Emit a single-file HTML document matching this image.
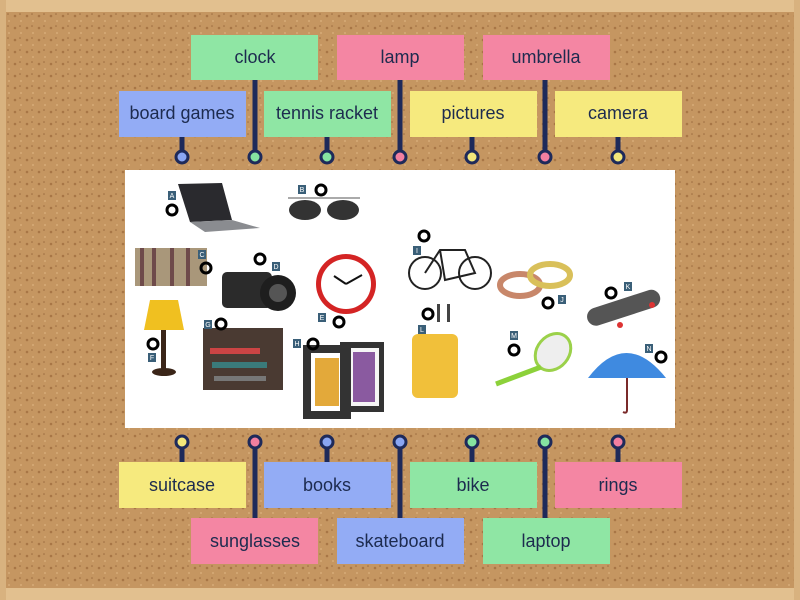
<!DOCTYPE html>
<html><head><meta charset="utf-8"><style>
html,body{margin:0;padding:0;width:800px;height:600px;overflow:hidden;background:#c4935e}
svg{display:block}
text{font-family:"Liberation Sans",sans-serif}
.lb{font-size:18px;fill:#1d2b4f;text-anchor:middle}
.tg{font-size:7px;fill:#fff;text-anchor:middle}
</style></head><body>
<svg width="800" height="600" viewBox="0 0 800 600" xmlns="http://www.w3.org/2000/svg">
<defs>
<pattern id="cork" width="12" height="12" patternUnits="userSpaceOnUse">
<rect width="12" height="12" fill="#c59661"/>
<circle cx="3" cy="4" r="1.3" fill="#a87646"/><circle cx="9" cy="9" r="1" fill="#d6ab77"/><circle cx="8" cy="2" r="0.8" fill="#9d6d40"/>
</pattern>
</defs>
<rect width="800" height="600" fill="url(#cork)"/>
<rect x="0" y="0" width="800" height="12" fill="#e2c08f"/>
<rect x="0" y="588" width="800" height="12" fill="#e2c08f"/>
<rect x="0" y="0" width="6" height="600" fill="#d8b27f"/>
<rect x="794" y="0" width="6" height="600" fill="#d8b27f"/>

<!-- white image area -->
<rect x="125" y="170" width="550" height="258" fill="#ffffff"/>

<!-- connectors -->
<g stroke="#1e2a5a" stroke-width="5">
<line x1="182" y1="130" x2="182" y2="157"/><line x1="255" y1="75" x2="255" y2="157"/>
<line x1="327" y1="130" x2="327" y2="157"/><line x1="400" y1="75" x2="400" y2="157"/>
<line x1="472" y1="130" x2="472" y2="157"/><line x1="545" y1="75" x2="545" y2="157"/>
<line x1="618" y1="130" x2="618" y2="157"/>
<line x1="182" y1="442" x2="182" y2="468"/><line x1="255" y1="442" x2="255" y2="522"/>
<line x1="327" y1="442" x2="327" y2="468"/><line x1="400" y1="442" x2="400" y2="522"/>
<line x1="472" y1="442" x2="472" y2="468"/><line x1="545" y1="442" x2="545" y2="522"/>
<line x1="618" y1="442" x2="618" y2="468"/>
</g>
<g stroke="#1e2a5a" stroke-width="3">
<circle cx="182" cy="157" r="6" fill="#8aa6f2"/><circle cx="255" cy="157" r="6" fill="#86e3a0"/>
<circle cx="327" cy="157" r="6" fill="#86e3a0"/><circle cx="400" cy="157" r="6" fill="#f27fa0"/>
<circle cx="472" cy="157" r="6" fill="#f3e77a"/><circle cx="545" cy="157" r="6" fill="#f27fa0"/>
<circle cx="618" cy="157" r="6" fill="#f3e77a"/>
<circle cx="182" cy="442" r="6" fill="#f3e77a"/><circle cx="255" cy="442" r="6" fill="#f27fa0"/>
<circle cx="327" cy="442" r="6" fill="#8aa6f2"/><circle cx="400" cy="442" r="6" fill="#8aa6f2"/>
<circle cx="472" cy="442" r="6" fill="#86e3a0"/><circle cx="545" cy="442" r="6" fill="#86e3a0"/>
<circle cx="618" cy="442" r="6" fill="#f27fa0"/>
</g>

<!-- labels -->
<g>
<rect x="191" y="35" width="127" height="45" fill="#8fe6a4"/><text class="lb" x="255" y="63">clock</text>
<rect x="337" y="35" width="127" height="45" fill="#f486a3"/><text class="lb" x="400" y="63">lamp</text>
<rect x="483" y="35" width="127" height="45" fill="#f486a3"/><text class="lb" x="546" y="63">umbrella</text>
<rect x="119" y="91" width="127" height="46" fill="#93acf5"/><text class="lb" x="182" y="119">board games</text>
<rect x="264" y="91" width="127" height="46" fill="#8fe6a4"/><text class="lb" x="327" y="119">tennis racket</text>
<rect x="410" y="91" width="127" height="46" fill="#f6ea7e"/><text class="lb" x="473" y="119">pictures</text>
<rect x="555" y="91" width="127" height="46" fill="#f6ea7e"/><text class="lb" x="618" y="119">camera</text>
<rect x="119" y="462" width="127" height="46" fill="#f6ea7e"/><text class="lb" x="182" y="491">suitcase</text>
<rect x="264" y="462" width="127" height="46" fill="#93acf5"/><text class="lb" x="327" y="491">books</text>
<rect x="410" y="462" width="127" height="46" fill="#8fe6a4"/><text class="lb" x="473" y="491">bike</text>
<rect x="555" y="462" width="127" height="46" fill="#f486a3"/><text class="lb" x="618" y="491">rings</text>
<rect x="191" y="518" width="127" height="46" fill="#f486a3"/><text class="lb" x="255" y="547">sunglasses</text>
<rect x="337" y="518" width="127" height="46" fill="#93acf5"/><text class="lb" x="400" y="547">skateboard</text>
<rect x="483" y="518" width="127" height="46" fill="#8fe6a4"/><text class="lb" x="546" y="547">laptop</text>
</g>

<!-- pictures (simplified) -->
<!-- laptop -->
<polygon points="178,184 222,183 232,220 190,222" fill="#2a2a2e"/>
<polygon points="190,222 232,220 260,228 205,232" fill="#8a8c90"/>
<!-- sunglasses -->
<ellipse cx="305" cy="210" rx="16" ry="10" fill="#333"/><ellipse cx="343" cy="210" rx="16" ry="10" fill="#333"/>
<line x1="288" y1="198" x2="360" y2="198" stroke="#aaa" stroke-width="2"/>
<!-- books shelf -->
<rect x="135" y="248" width="72" height="38" fill="#a9977a"/>
<g fill="#6e4a4a"><rect x="140" y="248" width="4" height="38"/><rect x="152" y="248" width="4" height="38"/><rect x="170" y="248" width="4" height="38"/><rect x="186" y="248" width="4" height="38"/></g>
<!-- camera -->
<rect x="222" y="272" width="50" height="36" rx="5" fill="#2b2b2b"/><circle cx="278" cy="293" r="18" fill="#1e1e1e"/><circle cx="278" cy="293" r="9" fill="#555"/>
<!-- clock -->
<circle cx="346" cy="284" r="30" fill="#d42424"/><circle cx="346" cy="284" r="25" fill="#fff"/>
<line x1="346" y1="284" x2="334" y2="276" stroke="#111" stroke-width="2"/><line x1="346" y1="284" x2="362" y2="275" stroke="#111" stroke-width="2"/>
<!-- lamp -->
<polygon points="150,300 178,300 184,330 144,330" fill="#f0c020"/>
<rect x="161" y="330" width="5" height="40" fill="#3a2518"/><ellipse cx="164" cy="372" rx="12" ry="4" fill="#3a2518"/>
<!-- stack of books -->
<rect x="203" y="328" width="80" height="62" fill="#4a3a32"/>
<g fill="#c44"><rect x="210" y="348" width="50" height="6"/></g><rect x="212" y="362" width="55" height="6" fill="#3a7a7a"/><rect x="214" y="376" width="52" height="5" fill="#777"/>
<!-- pictures -->
<rect x="305" y="347" width="44" height="70" fill="#333"/><rect x="311" y="353" width="32" height="58" fill="#fff"/><rect x="315" y="358" width="24" height="48" fill="#e3a93a"/>
<rect x="340" y="342" width="44" height="70" fill="#333"/><rect x="349" y="348" width="30" height="58" fill="#f5f5f5"/><rect x="353" y="352" width="22" height="50" fill="#8a5aa0"/>
<rect x="305" y="347" width="44" height="70" fill="none" stroke="#333" stroke-width="4"/>
<!-- bike -->
<g fill="none" stroke="#222" stroke-width="2"><circle cx="425" cy="273" r="16"/><circle cx="475" cy="273" r="16"/>
<polyline points="425,273 440,250 465,250 475,273 445,280 440,250"/></g>
<!-- rings -->
<ellipse cx="520" cy="285" rx="20" ry="11" fill="none" stroke="#c8876a" stroke-width="6"/>
<ellipse cx="550" cy="275" rx="20" ry="11" fill="none" stroke="#d9c05a" stroke-width="6"/>
<!-- skateboard -->
<g transform="rotate(-18 623 309)"><rect x="586" y="299" width="76" height="18" rx="9" fill="#555"/></g>
<circle cx="620" cy="325" r="3" fill="#d33"/><circle cx="652" cy="305" r="3" fill="#d33"/>
<!-- suitcase -->
<rect x="437" y="304" width="3" height="18" fill="#444"/><rect x="447" y="304" width="3" height="18" fill="#444"/>
<rect x="412" y="334" width="46" height="64" rx="6" fill="#f1c03a"/>
<!-- racket -->
<ellipse cx="553" cy="352" rx="16" ry="20" transform="rotate(40 553 352)" fill="#eee" stroke="#9bd14a" stroke-width="3"/>
<line x1="541" y1="367" x2="496" y2="384" stroke="#8cd13a" stroke-width="5"/>
<!-- umbrella -->
<path d="M588,378 Q626,328 666,378 Z" fill="#3f8ae0"/><path d="M627,378 L627,410 Q627,414 623,412" fill="none" stroke="#7a2a2a" stroke-width="2"/>

<!-- tags -->
<g fill="#3a5f78">
<rect x="168" y="191" width="8" height="9"/><rect x="298" y="185" width="8" height="9"/><rect x="198" y="250" width="8" height="9"/>
<rect x="272" y="262" width="8" height="9"/><rect x="318" y="313" width="8" height="9"/><rect x="148" y="353" width="8" height="9"/>
<rect x="204" y="320" width="8" height="9"/><rect x="293" y="339" width="8" height="9"/><rect x="413" y="246" width="8" height="9"/>
<rect x="558" y="295" width="8" height="9"/><rect x="624" y="282" width="8" height="9"/><rect x="418" y="325" width="8" height="9"/>
<rect x="510" y="331" width="8" height="9"/><rect x="645" y="344" width="8" height="9"/>
</g>
<g class="tg">
<text class="tg" x="172" y="198">A</text><text class="tg" x="302" y="192">B</text><text class="tg" x="202" y="257">C</text>
<text class="tg" x="276" y="269">D</text><text class="tg" x="322" y="320">E</text><text class="tg" x="152" y="360">F</text>
<text class="tg" x="208" y="327">G</text><text class="tg" x="297" y="346">H</text><text class="tg" x="417" y="253">I</text>
<text class="tg" x="562" y="302">J</text><text class="tg" x="628" y="289">K</text><text class="tg" x="422" y="332">L</text>
<text class="tg" x="514" y="338">M</text><text class="tg" x="649" y="351">N</text>
</g>
<!-- markers -->
<g fill="none" stroke="#000" stroke-width="3">
<circle cx="172" cy="210" r="5"/><circle cx="321" cy="190" r="5"/><circle cx="206" cy="268" r="5"/>
<circle cx="260" cy="259" r="5"/><circle cx="339" cy="322" r="5"/><circle cx="153" cy="344" r="5"/>
<circle cx="221" cy="324" r="5"/><circle cx="313" cy="344" r="5"/><circle cx="424" cy="236" r="5"/>
<circle cx="548" cy="303" r="5"/><circle cx="611" cy="293" r="5"/><circle cx="428" cy="314" r="5"/>
<circle cx="514" cy="350" r="5"/><circle cx="661" cy="357" r="5"/>
</g>
</svg>
</body></html>
